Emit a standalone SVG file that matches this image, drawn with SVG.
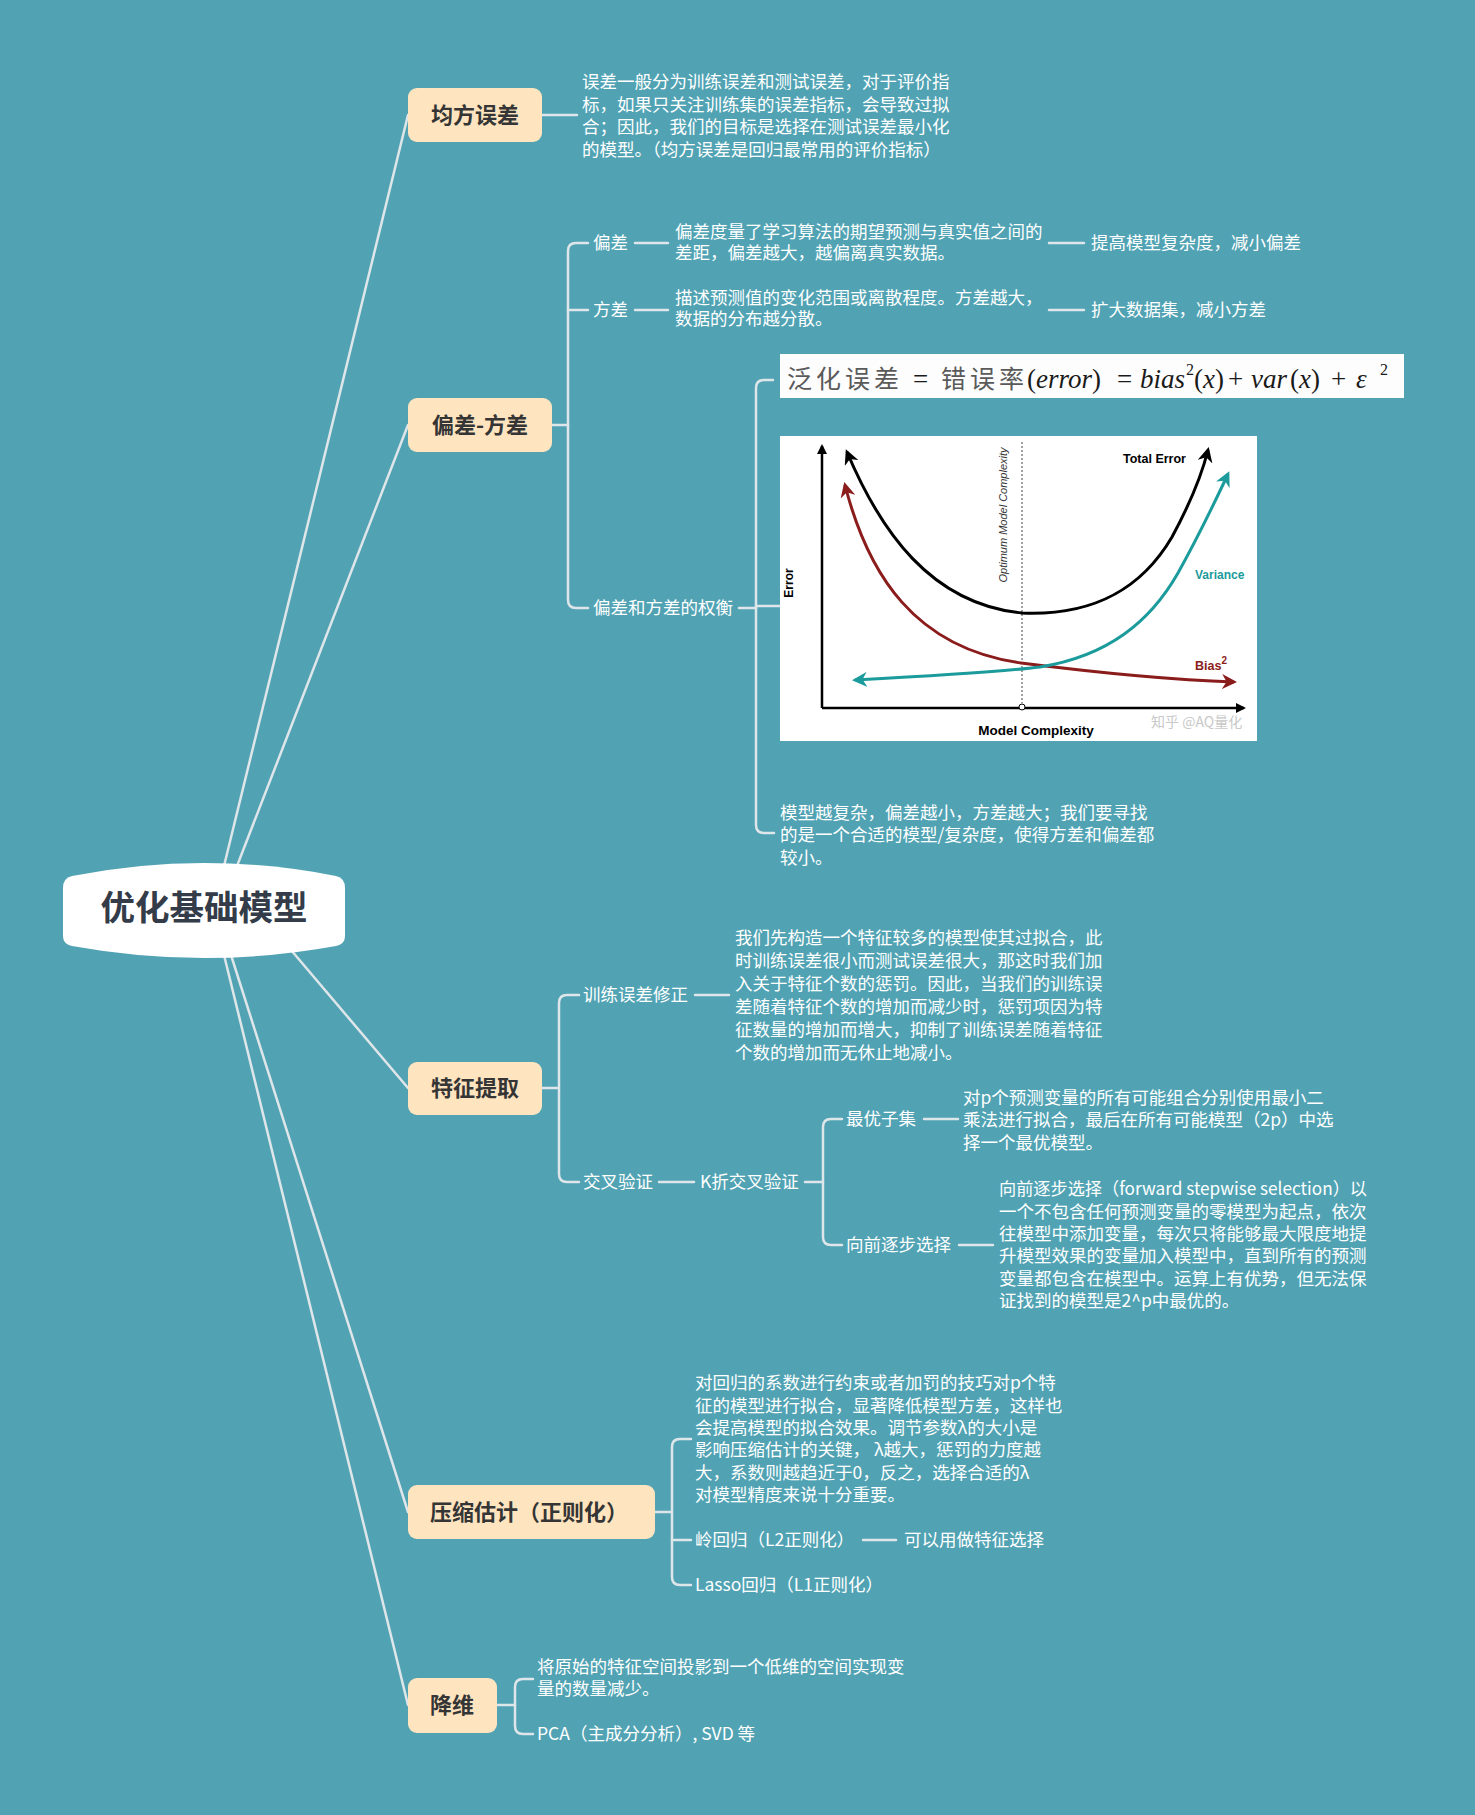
<svg xmlns="http://www.w3.org/2000/svg" width="1475" height="1815" viewBox="0 0 1475 1815">
<defs>
<style>
.ln{fill:none;stroke:#dfe6ea;stroke-width:2.5;stroke-linecap:round}
.node{fill:#ffe5bf}
.nt{font-family:"Noto Sans CJK SC","Microsoft YaHei",sans-serif;font-weight:700;font-size:22px;fill:#353535}
.t{font-family:"Noto Sans CJK SC","Microsoft YaHei",sans-serif;font-size:17.5px;fill:#ffffff}
.ch{font-family:"Liberation Sans",Arial,sans-serif;font-weight:700}
.m{font-family:"Liberation Serif","Times New Roman",serif;font-size:27px;fill:#1a1a1a}
.sup{font-family:"Liberation Serif","Times New Roman",serif;font-size:16px;fill:#1a1a1a}
.mi{font-style:italic}
.fz{font-family:"Noto Sans CJK SC",sans-serif;font-size:25px;fill:#5a5a5a;letter-spacing:4px}
</style>
<marker id="ak" viewBox="0 0 10 10" refX="8" refY="5" markerWidth="5" markerHeight="5" orient="auto-start-reverse" markerUnits="strokeWidth"><path d="M0,0 L10,5 L0,10 L3,5 z" fill="#000"/></marker>
<marker id="ar" viewBox="0 0 10 10" refX="8" refY="5" markerWidth="5" markerHeight="5" orient="auto-start-reverse" markerUnits="strokeWidth"><path d="M0,0 L10,5 L0,10 L3,5 z" fill="#8b1c1c"/></marker>
<marker id="av" viewBox="0 0 10 10" refX="8" refY="5" markerWidth="5" markerHeight="5" orient="auto-start-reverse" markerUnits="strokeWidth"><path d="M0,0 L10,5 L0,10 L3,5 z" fill="#1b9b9b"/></marker>
<marker id="ax" viewBox="0 0 10 10" refX="8" refY="5" markerWidth="4" markerHeight="4" orient="auto" markerUnits="strokeWidth"><path d="M0,0 L10,5 L0,10 z" fill="#000"/></marker>
</defs>
<rect x="0" y="0" width="1475" height="1815" fill="#51a3b4"/>

<g id="connectors">
<path class="ln" d="M224,866 L408,115"/>
<path class="ln" d="M237,866 L408,425"/>
<path class="ln" d="M291,950 L408,1088"/>
<path class="ln" d="M231,955 L408,1512"/>
<path class="ln" d="M224,955 L408,1705"/>
<path class="ln" d="M542,115 H577"/>
<path class="ln" d="M552,425 H568"/>
<path class="ln" d="M588,243 H576 Q568,243 568,251 V600 Q568,608 576,608 H588"/>
<path class="ln" d="M568,310 H588"/>
<path class="ln" d="M635,243 H668 M1049,243 H1084"/>
<path class="ln" d="M635,310 H668 M1049,310 H1084"/>
<path class="ln" d="M739,608 H756"/>
<path class="ln" d="M773,380 H764 Q756,380 756,388 V825 Q756,833 764,833 H774"/>
<path class="ln" d="M756,606 H780"/>
<path class="ln" d="M542,1088 H559"/>
<path class="ln" d="M579,995 H567 Q559,995 559,1003 V1174 Q559,1182 567,1182 H579"/>
<path class="ln" d="M695,995 H729"/>
<path class="ln" d="M659,1182 H694 M805,1182 H823"/>
<path class="ln" d="M842,1119 H831 Q823,1119 823,1127 V1237 Q823,1245 831,1245 H842"/>
<path class="ln" d="M924,1119 H958 M959,1245 H993"/>
<path class="ln" d="M655,1512 H672"/>
<path class="ln" d="M691,1439 H680 Q672,1439 672,1447 V1577 Q672,1585 680,1585 H691"/>
<path class="ln" d="M672,1540 H691 M863,1540 H896"/>
<path class="ln" d="M497,1705 H515"/>
<path class="ln" d="M533,1679 H523 Q515,1679 515,1687 V1726 Q515,1734 523,1734 H533"/>
</g>

<g id="root">
<path d="M72,876 Q204,850 336,876 Q345,878 345,888 V936 Q345,944 336,946 Q204,970 72,946 Q63,944 63,936 V888 Q63,878 72,876 Z" fill="#ffffff"/>
<text x="204" y="920" text-anchor="middle" font-family="Noto Sans CJK SC,Microsoft YaHei,sans-serif" font-weight="700" font-size="34.5" fill="#333c48">优化基础模型</text>
</g>

<g id="n-mse">
<rect class="node" x="408" y="88" width="134" height="54" rx="9"/>
<text class="nt" x="475" y="123" text-anchor="middle">均方误差</text>
<text class="t" x="582" y="88">误差一般分为训练误差和测试误差，对于评价指</text>
<text class="t" x="582" y="110.5">标，如果只关注训练集的误差指标，会导致过拟</text>
<text class="t" x="582" y="133">合；因此，我们的目标是选择在测试误差最小化</text>
<text class="t" x="582" y="155.5">的模型。（均方误差是回归最常用的评价指标）</text>
</g>

<g id="n-bv">
<rect class="node" x="408" y="398" width="144" height="54" rx="9"/>
<text class="nt" x="480" y="433" text-anchor="middle">偏差-方差</text>
<text class="t" x="593" y="249">偏差</text>
<text class="t" x="675" y="238">偏差度量了学习算法的期望预测与真实值之间的</text>
<text class="t" x="675" y="259">差距，偏差越大，越偏离真实数据。</text>
<text class="t" x="1091" y="249">提高模型复杂度，减小偏差</text>
<text class="t" x="593" y="316">方差</text>
<text class="t" x="675" y="304">描述预测值的变化范围或离散程度。方差越大，</text>
<text class="t" x="675" y="325">数据的分布越分散。</text>
<text class="t" x="1091" y="316">扩大数据集，减小方差</text>
<text class="t" x="593" y="614">偏差和方差的权衡</text>
<text class="t" x="780" y="819">模型越复杂，偏差越小，方差越大；我们要寻找</text>
<text class="t" x="780" y="841">的是一个合适的模型/复杂度，使得方差和偏差都</text>
<text class="t" x="780" y="864">较小。</text>
</g>

<g id="formula">
<rect x="780" y="354" width="624" height="44" fill="#fdfdfd"/>
<text class="fz" x="787" y="388">泛化误差</text>
<text class="m" x="913" y="388">=</text>
<text class="fz" x="941" y="388">错误率</text>
<text class="m" x="1027" y="388">(<tspan class="mi">error</tspan>)</text>
<text class="m" x="1117" y="388">=</text>
<text class="m mi" x="1140" y="388">bias</text>
<text class="sup" x="1186" y="375">2</text>
<text class="m" x="1194" y="388">(<tspan class="mi">x</tspan>)</text>
<text class="m" x="1228" y="388">+</text>
<text class="m mi" x="1251" y="388">var</text>
<text class="m" x="1290" y="388">(<tspan class="mi">x</tspan>)</text>
<text class="m" x="1331" y="388">+</text>
<text class="m mi" x="1356" y="388">ε</text>
<text class="sup" x="1380" y="375">2</text>
</g>

<g id="chart">
<rect x="780" y="436" width="477" height="305" fill="#ffffff"/>
<path d="M822,708 V446" stroke="#000" stroke-width="2.5" fill="none" marker-end="url(#ax)"/>
<path d="M822,708 H1244" stroke="#000" stroke-width="2.5" fill="none" marker-end="url(#ax)"/>
<path d="M1022,442 V703" stroke="#444" stroke-width="1" stroke-dasharray="2,2" fill="none"/>
<circle cx="1022" cy="707" r="3" fill="#fff" stroke="#000" stroke-width="1"/>
<path d="M847,452 C880,530 930,604 1022,613 C1095,616 1142,588 1172,537 C1192,500 1203,470 1208,450" stroke="#000" stroke-width="3" fill="none" marker-start="url(#ak)" marker-end="url(#ak)"/>
<path d="M845,485 C868,575 915,648 1021,663 C1100,673 1175,680 1234,682" stroke="#8b1c1c" stroke-width="3" fill="none" marker-start="url(#ar)" marker-end="url(#ar)"/>
<path d="M855,680 C950,675 1000,672 1040,667 C1108,656 1150,622 1178,573 C1203,528 1218,495 1228,474" stroke="#1b9b9b" stroke-width="3" fill="none" marker-start="url(#av)" marker-end="url(#av)"/>
<text class="ch" x="1123" y="463" font-size="12.5" fill="#000">Total Error</text>
<text class="ch" x="1195" y="579" font-size="12" fill="#1b9b9b">Variance</text>
<text class="ch" x="1195" y="670" font-size="12.5" fill="#8b1c1c">Bias<tspan font-size="10" dy="-6">2</tspan></text>
<text class="ch" x="1036" y="735" font-size="13.5" fill="#000" text-anchor="middle">Model Complexity</text>
<text class="ch" x="0" y="0" font-size="12" fill="#000" text-anchor="middle" transform="translate(793,583) rotate(-90)">Error</text>
<text x="0" y="0" font-family="Liberation Sans,Arial,sans-serif" font-style="italic" font-size="11" fill="#333" text-anchor="middle" transform="translate(1007,515) rotate(-90)">Optimum Model Complexity</text>
<text x="1151" y="727" font-family="Noto Sans CJK SC,sans-serif" font-size="14" fill="#c9c9c9">知乎 @AQ量化</text>
</g>

<g id="n-feat">
<rect class="node" x="408" y="1062" width="134" height="53" rx="9"/>
<text class="nt" x="475" y="1096" text-anchor="middle">特征提取</text>
<text class="t" x="583" y="1001">训练误差修正</text>
<text class="t" x="735" y="944">我们先构造一个特征较多的模型使其过拟合，此</text>
<text class="t" x="735" y="967">时训练误差很小而测试误差很大，那这时我们加</text>
<text class="t" x="735" y="990">入关于特征个数的惩罚。因此，当我们的训练误</text>
<text class="t" x="735" y="1013">差随着特征个数的增加而减少时，惩罚项因为特</text>
<text class="t" x="735" y="1036">征数量的增加而增大，抑制了训练误差随着特征</text>
<text class="t" x="735" y="1059">个数的增加而无休止地减小。</text>
<text class="t" x="583" y="1188">交叉验证</text>
<text class="t" x="700" y="1188">K折交叉验证</text>
<text class="t" x="846" y="1125">最优子集</text>
<text class="t" x="963" y="1104">对p个预测变量的所有可能组合分别使用最小二</text>
<text class="t" x="963" y="1126">乘法进行拟合，最后在所有可能模型（2p）中选</text>
<text class="t" x="963" y="1149">择一个最优模型。</text>
<text class="t" x="846" y="1251">向前逐步选择</text>
<text class="t" x="999" y="1195" textLength="368" lengthAdjust="spacingAndGlyphs">向前逐步选择（forward stepwise selection）以</text>
<text class="t" x="999" y="1217.5">一个不包含任何预测变量的零模型为起点，依次</text>
<text class="t" x="999" y="1240">往模型中添加变量，每次只将能够最大限度地提</text>
<text class="t" x="999" y="1262">升模型效果的变量加入模型中，直到所有的预测</text>
<text class="t" x="999" y="1284.5">变量都包含在模型中。运算上有优势，但无法保</text>
<text class="t" x="999" y="1307">证找到的模型是2^p中最优的。</text>
</g>

<g id="n-shrink">
<rect class="node" x="408" y="1485" width="247" height="54" rx="9"/>
<text class="nt" x="430" y="1520">压缩估计（正则化）</text>
<text class="t" x="695" y="1389">对回归的系数进行约束或者加罚的技巧对p个特</text>
<text class="t" x="695" y="1411.5">征的模型进行拟合，显著降低模型方差，这样也</text>
<text class="t" x="695" y="1434">会提高模型的拟合效果。调节参数λ的大小是</text>
<text class="t" x="695" y="1456">影响压缩估计的关键， λ越大，惩罚的力度越</text>
<text class="t" x="695" y="1478.5">大，系数则越趋近于0，反之，选择合适的λ</text>
<text class="t" x="695" y="1501">对模型精度来说十分重要。</text>
<text class="t" x="695" y="1546">岭回归（L2正则化）</text>
<text class="t" x="904" y="1546">可以用做特征选择</text>
<text class="t" x="695" y="1591">Lasso回归（L1正则化）</text>
</g>

<g id="n-dim">
<rect class="node" x="408" y="1678" width="89" height="55" rx="9"/>
<text class="nt" x="452" y="1713" text-anchor="middle">降维</text>
<text class="t" x="537" y="1673">将原始的特征空间投影到一个低维的空间实现变</text>
<text class="t" x="537" y="1695">量的数量减少。</text>
<text class="t" x="537" y="1740">PCA（主成分分析）, SVD 等</text>
</g>
</svg>
